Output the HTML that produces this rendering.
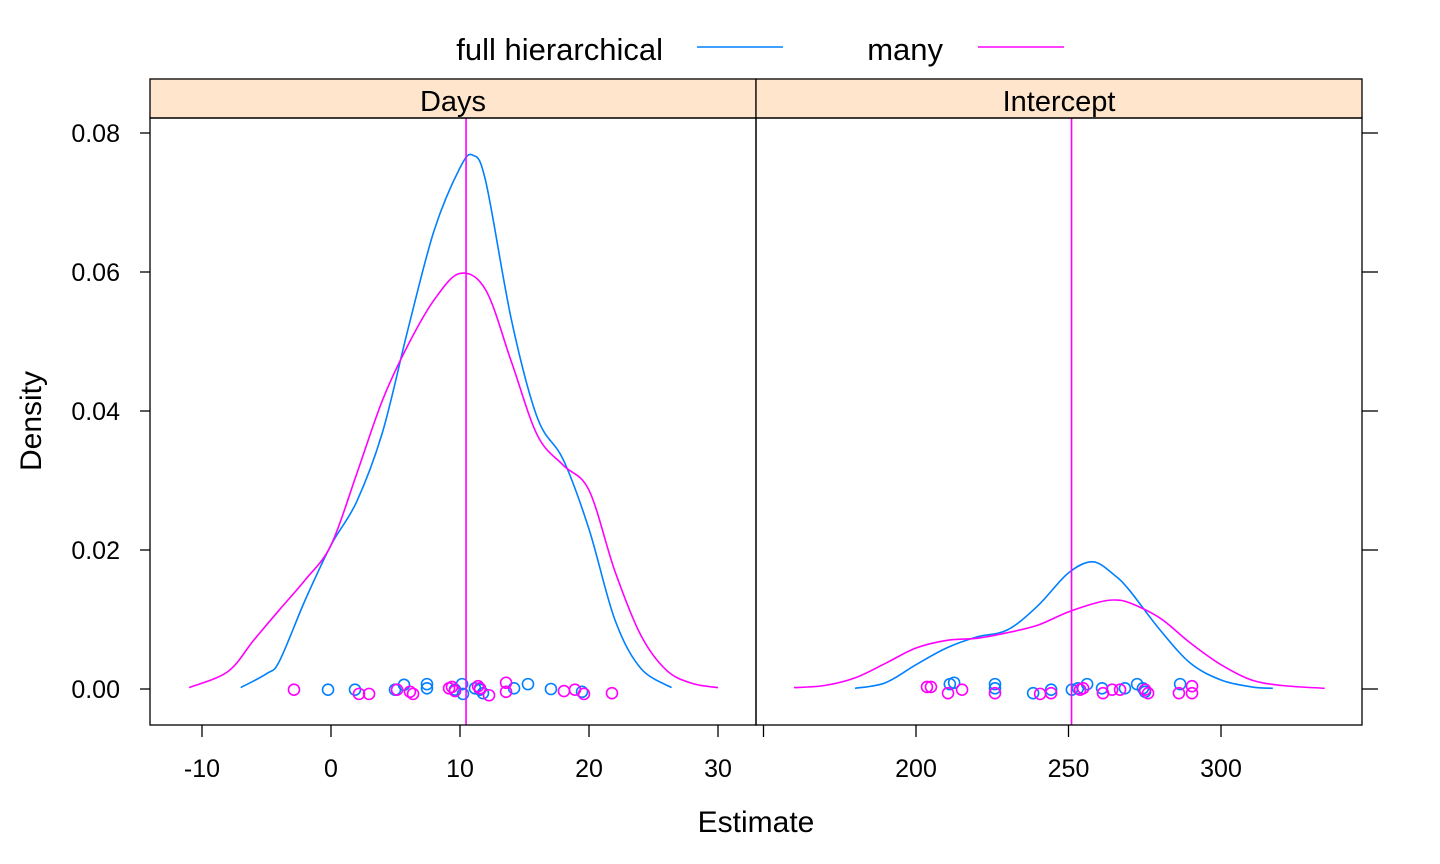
<!DOCTYPE html>
<html><head><meta charset="utf-8"><style>
body{margin:0;background:#fff}svg{display:block}
text{font-family:"Liberation Sans",Arial,sans-serif;fill:#000}
</style></head><body>
<svg id="chart" width="1440" height="864" xmlns="http://www.w3.org/2000/svg"></svg>
<script>
const panels=["Days","Intercept"];
const seriesNames=["full hierarchical","many"];
const yTicks=[0,0.02,0.04,0.06,0.08];
const yTickLabels=["0.00","0.02","0.04","0.06","0.08"];
const daysTicks=[-10,0,10,20,30];
const interceptTicks=[150,200,250,300];
const interceptTickLabels=["","200","250","300"];
const daysFullX=[-7,-5,-4,-2,0,2,4,6,8,10,11,12,14,16,18,20,22,24,26.4];
const daysFullY=[0.0002,0.0022,0.004,0.0128,0.0207,0.027,0.037,0.052,0.066,0.075,0.0768,0.073,0.053,0.039,0.033,0.023,0.010,0.003,0.0002];
const daysManyX=[-11,-8,-6,-4,-2,0,2,4,6,8,10,12,14,16,18,20,22,24,26,28,30];
const daysManyY=[0.0002,0.0025,0.007,0.0114,0.0157,0.0207,0.031,0.0416,0.0496,0.056,0.0598,0.0574,0.047,0.0365,0.0322,0.0286,0.017,0.0078,0.0027,0.0008,0.0002];
const intFullX=[180,190,200,210,220,230,240,250,258,265,270,280,290,300,310,317];
const intFullY=[0.0001,0.0009,0.0035,0.0059,0.0075,0.0085,0.012,0.0167,0.0183,0.0164,0.0142,0.0085,0.0037,0.0013,0.0003,0.0001];
const intManyX=[160,170,180,190,200,210,220,230,240,250,260,265,270,280,290,300,310,320,334];
const intManyY=[0.0002,0.0005,0.0016,0.0037,0.0059,0.007,0.0073,0.0081,0.0092,0.0111,0.0125,0.0128,0.0124,0.0102,0.0066,0.0035,0.0013,0.0005,0.0001];
const daysFullRug=[-0.23,1.86,4.96,5.66,7.44,7.44,9.61,10.16,10.23,11.16,11.55,11.78,14.19,15.27,17.05,19.46];
const daysFullJit=[-0.0001,-0.0001,-0.0001,0.0006,0.0007,0.0001,-0.0001,0.0007,-0.0007,0.0001,-0.0001,-0.0006,0.0001,0.0007,0,-0.0004];
const daysManyRug=[-2.87,2.17,2.95,5.12,6.12,6.36,9.15,9.38,9.61,11.4,11.55,12.25,13.57,13.57,18.06,18.91,19.61,21.78];
const daysManyJit=[-0.0001,-0.0007,-0.0007,-0.0001,-0.0004,-0.0007,0.0001,0.0003,-0.0003,0.0004,0.0001,-0.0009,0.0009,-0.0004,-0.0003,-0.0001,-0.0007,-0.0006];
const intFullRug=[211.1,212.5,225.9,225.9,238.4,244.3,251.1,253.1,256.1,261,268.5,272.5,274.4,275.1,286.6];
const intFullJit=[0.0007,0.0009,0.0007,0.0001,-0.0006,-0.0001,-0.0001,0.0001,0.0007,0.0001,0.0001,0.0007,0.0001,-0.0004,0.0007];
const intManyRug=[203.6,204.9,210.5,215.1,225.9,240.7,244.3,253.8,254.8,261.3,264.3,266.9,275.1,276.1,286.2,290.5,290.5];
const intManyJit=[0.0003,0.0003,-0.0006,-0.0001,-0.0006,-0.0007,-0.0006,-0.0001,0.0001,-0.0006,-0.0001,-0.0001,-0.0001,-0.0006,-0.0006,0.0004,-0.0006];
const refLines=[10.47,251];

const svg=document.getElementById('chart');
const NS='http://www.w3.org/2000/svg';
function mk(tag,attrs,parent){const e=document.createElementNS(NS,tag);for(const k in attrs)e.setAttribute(k,attrs[k]);(parent||svg).appendChild(e);return e;}
const BLUE='#0080ff',MAG='#ff00ff';
const yS=v=>689-v*6950;
const xDays=v=>331+v*12.9;
const xInt=v=>916+(v-200)*3.05;
const px=[[150,756],[756,1362]];
const scales=[xDays,xInt];

let t=mk('text',{x:663,y:60,'font-size':31,'text-anchor':'end'});t.textContent=seriesNames[0];

let l=mk('line',{x1:697,x2:783,y1:47,y2:47,stroke:BLUE,'stroke-width':1.5});

t=mk('text',{x:943,y:60,'font-size':31,'text-anchor':'end'});t.textContent=seriesNames[1];

l=mk('line',{x1:978,x2:1064,y1:47,y2:47,stroke:MAG,'stroke-width':1.5});


function rug(xs,js,sx,color,name){
  xs.forEach((x,i)=>{const c=mk('circle',{cx:sx(x),cy:yS(js[i]),r:5.5,fill:'none',stroke:color,'stroke-width':1.6});
  });
}
function smooth(xs,ys,sx,color,name){
  const P=xs.map((x,i)=>[sx(x),yS(ys[i])]);
  let d='M'+P[0][0]+','+P[0][1];
  for(let i=0;i<P.length-1;i++){const p0=P[i-1]||P[i],p1=P[i],p2=P[i+1],p3=P[i+2]||P[i+1];
    d+='C'+(p1[0]+(p2[0]-p0[0])/6).toFixed(1)+','+(p1[1]+(p2[1]-p0[1])/6).toFixed(1)+' '+(p2[0]-(p3[0]-p1[0])/6).toFixed(1)+','+(p2[1]-(p3[1]-p1[1])/6).toFixed(1)+' '+p2[0].toFixed(1)+','+p2[1].toFixed(1);}
  const p=mk('path',{d:d,fill:'none',stroke:color,'stroke-width':1.6});
  
}
smooth(daysFullX,daysFullY,xDays,BLUE,'days-full-density');
smooth(daysManyX,daysManyY,xDays,MAG,'days-many-density');
smooth(intFullX,intFullY,xInt,BLUE,'intercept-full-density');
smooth(intManyX,intManyY,xInt,MAG,'intercept-many-density');
rug(daysFullRug,daysFullJit,xDays,BLUE,'days-full-point');
rug(daysManyRug,daysManyJit,xDays,MAG,'days-many-point');
rug(intFullRug,intFullJit,xInt,BLUE,'intercept-full-point');
rug(intManyRug,intManyJit,xInt,MAG,'intercept-many-point');
refLines.forEach((v,i)=>{const s=scales[i];const r=mk('line',{x1:s(v),x2:s(v),y1:118,y2:725,stroke:MAG,'stroke-width':1.6});
  });

panels.forEach((name,i)=>{
  const [a,b]=px[i];
  const s=mk('rect',{x:a,y:79,width:b-a,height:39,fill:'#ffe5cc',stroke:'#000','stroke-width':1.3});
  
  const st=mk('text',{x:(a+b)/2,y:111,'font-size':29,'text-anchor':'middle'});st.textContent=name;
  
  const f=mk('rect',{x:a,y:118,width:b-a,height:607,fill:'none',stroke:'#000','stroke-width':1.3});
  
});
yTicks.forEach((v,i)=>{
  mk('line',{x1:140,x2:150,y1:yS(v),y2:yS(v),stroke:'#000','stroke-width':1.3});
  mk('line',{x1:1362,x2:1378,y1:yS(v),y2:yS(v),stroke:'#000','stroke-width':1.3});
  const tt=mk('text',{x:120,y:yS(v)+9,'font-size':25,'text-anchor':'end'});tt.textContent=yTickLabels[i];
  
});
daysTicks.forEach(v=>{
  mk('line',{x1:xDays(v),x2:xDays(v),y1:725,y2:737,stroke:'#000','stroke-width':1.3});
  const tt=mk('text',{x:xDays(v),y:777,'font-size':25,'text-anchor':'middle'});tt.textContent=String(v);
  
});
interceptTicks.forEach((v,i)=>{
  mk('line',{x1:xInt(v),x2:xInt(v),y1:725,y2:737,stroke:'#000','stroke-width':1.3});
  const tt=mk('text',{x:xInt(v),y:777,'font-size':25,'text-anchor':'middle'});tt.textContent=interceptTickLabels[i];
  
});
t=mk('text',{x:756,y:832,'font-size':30,'text-anchor':'middle'});t.textContent='Estimate';

t=mk('text',{x:41,y:421,'font-size':30,'text-anchor':'middle',transform:'rotate(-90 41 421)'});t.textContent='Density';

</script>
</body></html>
